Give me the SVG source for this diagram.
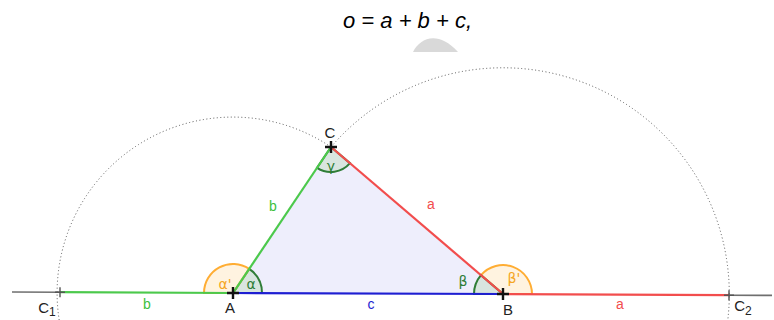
<svg xmlns="http://www.w3.org/2000/svg" width="774" height="320" viewBox="0 0 774 320">
<defs>
<style>
.dot{fill:none;stroke:#555;stroke-width:1;stroke-dasharray:1 2.5}
.gr{stroke:#4cc94c;stroke-width:2.2;fill:none}
.rd{stroke:#f24d4d;stroke-width:2.2;fill:none}
.bl{stroke:#1e1ed2;stroke-width:2.2;fill:none}
.gy{stroke:#6f6f6f;stroke-width:1.6;fill:none}
.sg{fill:#d3e3d9;fill-opacity:0.85;stroke:#2f7d37;stroke-width:2}
.so{fill:#fff1da;fill-opacity:0.85;stroke:#ffad33;stroke-width:2}
.pt{stroke:#111;stroke-width:2.4}
.pg{stroke:#555;stroke-width:1.4}
.lb{font-family:"Liberation Sans",Arial,sans-serif;font-size:15px;fill:#222;text-anchor:middle}
.sl{font-family:"Liberation Sans",Arial,sans-serif;font-size:14px;text-anchor:middle}
.ang{font-family:"DejaVu Sans",sans-serif;font-size:14px;text-anchor:middle}
</style>
</defs>
<rect width="774" height="320" fill="#fff"/>
<text x="343" y="28" font-family="Liberation Sans, Arial, sans-serif" font-style="italic" font-size="22" fill="#000">o = a + b + c,</text>
<path d="M413 52 C420 38 438 30 458 52 Z" fill="#d9d9d9"/>
<g id="arcs">
<path class="dot" d="M59.2 320 A175.8 175.8 0 0 1 331 147"/>
<path class="dot" d="M331 147 A226.3 226.3 0 0 1 727.8 320"/>
</g>
<g id="triangle">
<path d="M233 293 L503 294 L331 147 Z" fill="#eeeefc"/>
</g>
<g id="angles">
<path class="sg" d="M233 293 L262 293 A29 29 0 0 0 249.2 268.9 Z"/>
<path class="so" d="M233 293 L249.2 268.9 A29 29 0 0 0 204 293 Z"/>
<path class="so" d="M503 294 L532 294 A29 29 0 0 0 481 275.2 Z"/>
<path class="sg" d="M503 294 L481 275.2 A29 29 0 0 0 474 294 Z"/>
<path class="sg" d="M331 147 L317.1 167.8 A25 25 0 0 0 350 163.2 Z"/>
</g>
<g id="connectors">
<line class="gy" x1="12" y1="292" x2="60" y2="292.2"/>
<line class="gy" x1="729" y1="295.2" x2="772" y2="295.4"/>
<line class="gr" x1="60" y1="292.2" x2="233" y2="293"/>
<line class="rd" x1="503" y1="294" x2="729" y2="295.2"/>
<line class="bl" x1="233" y1="293" x2="503" y2="294"/>
<line class="rd" x1="503" y1="294" x2="331" y2="147"/>
<line class="gr" x1="233" y1="293" x2="331" y2="147"/>
</g>
<g id="A">
<path class="pt" d="M227 293 H239 M233 287 V299"/>
<text class="lb" x="230" y="313">A</text>
</g>
<g id="B">
<path class="pt" d="M497 294 H509 M503 288 V300"/>
<text class="lb" x="508" y="315">B</text>
</g>
<g id="C">
<path class="pt" d="M325 147 H337 M331 141 V153"/>
<text class="lb" x="330" y="138">C</text>
</g>
<g id="C1">
<path class="pg" d="M55 292.2 H65 M60 287.2 V297.2"/>
<text class="lb" x="47" y="313">C<tspan font-size="12" dy="3">1</tspan></text>
</g>
<g id="C2">
<path class="pg" d="M724 295.2 H734 M729 290.2 V300.2"/>
<text class="lb" x="743" y="311">C<tspan font-size="12" dy="4">2</tspan></text>
</g>
<g id="labels">
<text class="sl" x="273" y="211" fill="#3cbf3c">b</text>
<text class="sl" x="431" y="209" fill="#f24d4d">a</text>
<text class="sl" x="371" y="309" fill="#1e1ed2">c</text>
<text class="sl" x="147" y="309" fill="#3cbf3c">b</text>
<text class="sl" x="620" y="309" fill="#f24d4d">a</text>
<text class="ang" x="225" y="289" fill="#f5a623">α'</text>
<text class="ang" x="251" y="289" fill="#2f7d37">α</text>
<text class="ang" x="463" y="286" fill="#2f7d37">β</text>
<text class="ang" x="514" y="283" fill="#f5a623">β'</text>
<text class="ang" x="331" y="171" fill="#2f7d37" font-size="15">γ</text>
</g>
</svg>
